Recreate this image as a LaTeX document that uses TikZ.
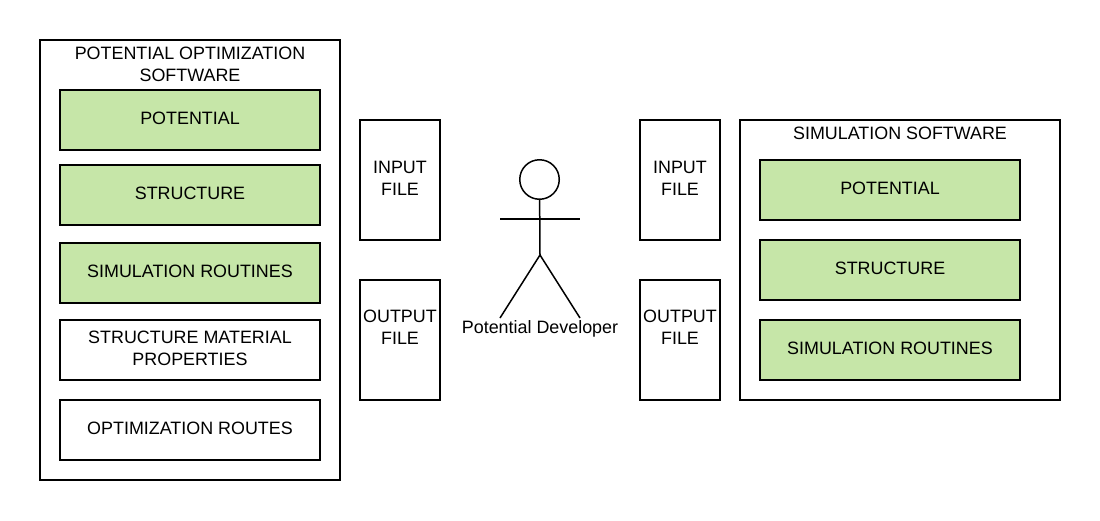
\documentclass[tikz,border=0pt]{standalone}
\usepackage{fontspec}
\setmainfont{Liberation Sans}
\begin{document}
\begin{tikzpicture}[x=1pt,y=-1pt,
    box/.style={draw,line width=1.5pt,minimum width=260pt,minimum height=60pt,align=center,font=\fontsize{17.9}{22}\selectfont,inner sep=0pt,text depth=4pt},
    greenbox/.style={box,fill=green1},
    filebox/.style={box,minimum width=80pt,minimum height=120pt},
    outbox/.style={filebox,text depth=26pt},
    titlebox/.style={font=\fontsize{17.9}{22}\selectfont,align=center,inner sep=0pt},
    stick/.style={line width=1.5pt}]
  \definecolor{green1}{HTML}{C6E6A8}
  \useasboundingbox (0,0) rectangle (1100,520);
  % left software
  \node[box,minimum width=300pt,minimum height=440pt] (leftsoft) at (190,260) {};
  \node[titlebox] (lefttitle) at (190,64) {POTENTIAL OPTIMIZATION\\SOFTWARE};
  \node[greenbox] (lpot) at (190,120) {POTENTIAL};
  \node[greenbox] (lstruct) at (190,195) {STRUCTURE};
  \node[greenbox] (lsim) at (190,273) {SIMULATION ROUTINES};
  \node[box] (lprop) at (190,350) {STRUCTURE MATERIAL\\PROPERTIES};
  \node[box] (lopt) at (190,430) {OPTIMIZATION ROUTES};
  % files
  \node[filebox] (linput) at (400,180) {INPUT\\FILE};
  \node[outbox] (loutput) at (400,340) {OUTPUT\\FILE};
  \node[filebox] (rinput) at (680,180) {INPUT\\FILE};
  \node[outbox] (routput) at (680,340) {OUTPUT\\FILE};
  % right software
  \node[box,minimum width=320pt,minimum height=280pt] (rightsoft) at (900,260) {};
  \node[titlebox] (righttitle) at (900,133) {SIMULATION SOFTWARE};
  \node[greenbox] (rpot) at (890,190) {POTENTIAL};
  \node[greenbox] (rstruct) at (890,270) {STRUCTURE};
  \node[greenbox] (rsim) at (890,350) {SIMULATION ROUTINES};
  % developer
  \node[draw,circle,line width=1.5pt,minimum size=39.5pt,inner sep=0pt] (head) at (539.5,179.5) {};
  \coordinate (hip) at (540,255);
  \coordinate (armL) at (500,219);
  \coordinate (armR) at (580,219);
  \coordinate (footL) at (500,318);
  \coordinate (footR) at (580,318);
  \draw[stick] (head) -- (hip);
  \draw[stick] (armL) -- (armR);
  \draw[stick] (footL) -- (hip) -- (footR);
  \node[titlebox] (devlabel) at (540,329) {Potential Developer};
\end{tikzpicture}
\end{document}
